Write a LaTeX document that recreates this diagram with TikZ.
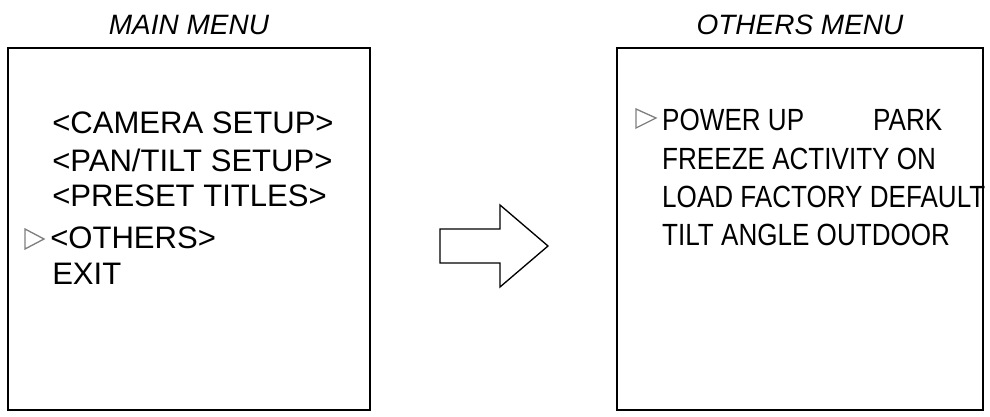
\documentclass[tikz,border=0pt]{standalone}
\usepackage{fontspec}
\setmainfont{Liberation Sans}
\begin{document}
\begin{tikzpicture}[x=0.75pt,y=-0.75pt,
  box/.style={draw,line width=1.6pt},
  txtL/.style={anchor=west,inner sep=0pt,font=\fontsize{23.3}{26}\selectfont},
  txt/.style={anchor=west,inner sep=0pt,xscale=0.85,font=\fontsize{23}{26}\selectfont},
  ttl/.style={inner sep=0pt,font=\fontsize{21}{24}\selectfont\itshape},
  tri/.style={draw=gray,line width=1pt,fill=white}]
\path[use as bounding box] (0,0) rectangle (990,417);
\node[box,minimum width=362*0.75pt,minimum height=362*0.75pt,inner sep=0pt] (L) at (189,229) {};
\node[box,minimum width=366*0.75pt,minimum height=362*0.75pt,inner sep=0pt] (R) at (800,229) {};
\node[ttl] (t1) at (189,25) {MAIN MENU};
\node[ttl] (t2) at (800,25) {OTHERS MENU};
\node[txtL] (l1) at (52,123) {<CAMERA SETUP>};
\node[txtL] (l2) at (52,160) {<PAN/TILT SETUP>};
\node[txtL] (l3) at (52,196) {<PRESET TITLES>};
\node[txtL] (l4) at (50,238) {<OTHERS>};
\node[txtL] (l5) at (52,274) {EXIT};
\draw[tri] (25,229) -- (44,239) -- (25,249) -- cycle;
\node[txt] (r1) at (662,120) {POWER UP};
\node[txt] (r1b) at (873,120) {PARK};
\node[txt] (r2) at (662,159) {FREEZE ACTIVITY ON};
\node[txt] (r3) at (662,197) {LOAD FACTORY DEFAULT};
\node[txt] (r4) at (662,235) {TILT ANGLE OUTDOOR};
\draw[tri] (636,109) -- (656,118) -- (636,128) -- cycle;
\draw[line width=1pt] (440,229) -- (500,229) -- (500,205) -- (548,246) -- (500,287) -- (500,263) -- (440,263) -- cycle;
\end{tikzpicture}
\end{document}
